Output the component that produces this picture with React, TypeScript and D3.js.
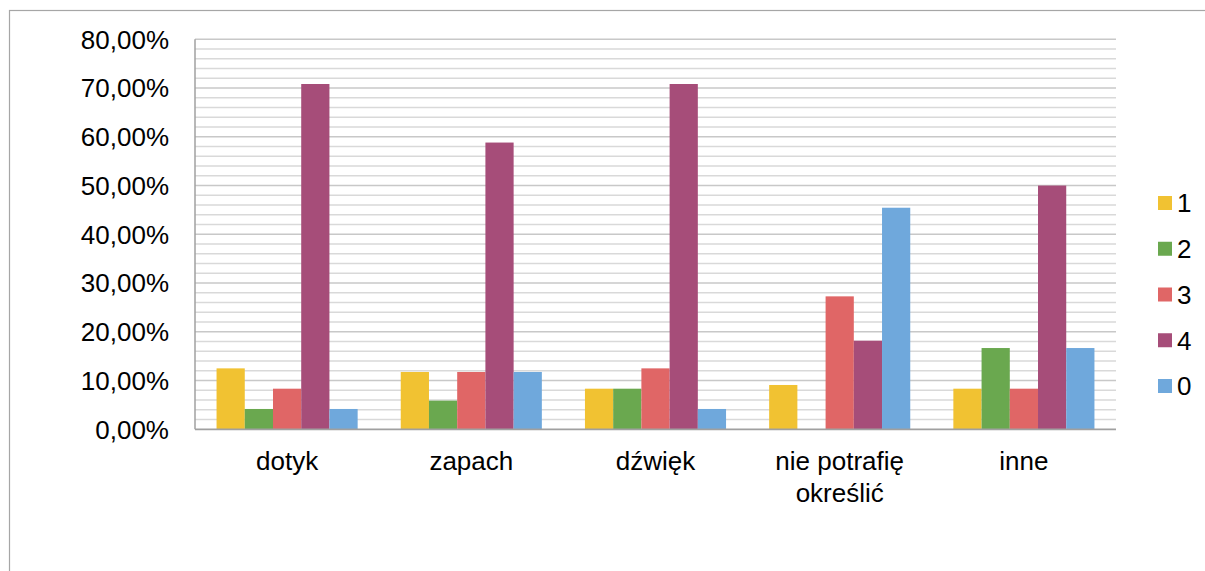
import { useRef, useEffect } from "react";
import * as d3 from "d3";

const categories = ["dotyk", "zapach", "dźwięk", "nie potrafię określić", "inne"];
const seriesNames = ["1", "2", "3", "4", "0"];
const seriesColors = ["#F1C232", "#6AA84F", "#E06666", "#A64D79", "#6FA8DC"];

// percent values per series, in category order
const s1 = [12.5, 11.76, 8.33, 9.09, 8.33];
const s2 = [4.17, 5.88, 8.33, 0, 16.67];
const s3 = [8.33, 11.76, 12.5, 27.27, 8.33];
const s4 = [70.83, 58.82, 70.83, 18.18, 50.0];
const s0 = [4.17, 11.76, 4.17, 45.45, 16.67];
const seriesValues = [s1, s2, s3, s4, s0];

const yTicks = [0, 10, 20, 30, 40, 50, 60, 70, 80];

const W = 1205;
const H = 571;
const FONT = "'Liberation Sans', Arial, sans-serif";

export default function App() {
  const svgRef = useRef<SVGSVGElement | null>(null);

  useEffect(() => {
    const svg = d3.select(svgRef.current);
    svg.selectAll("*").remove();

    const plot = { left: 195, right: 1116, top: 39.3, bottom: 429.3 };

    const x = d3
      .scaleBand<string>()
      .domain(categories)
      .range([plot.left, plot.right])
      .paddingInner(0.234)
      .paddingOuter(0.117);

    const xs = d3
      .scaleBand<string>()
      .domain(seriesNames)
      .range([0, x.bandwidth()]);

    const y = d3.scaleLinear().domain([0, 80]).range([plot.bottom, plot.top]);

    // outer chart border
    svg
      .append("rect")
      .attr("x", 9.5)
      .attr("y", 10.5)
      .attr("width", 1300)
      .attr("height", 700)
      .attr("fill", "none")
      .attr("stroke", "#a6a6a6")
      .attr("stroke-width", 1.2);

    // gridlines: minor every 2%, major every 10%
    const minor = d3.range(2, 81, 2).filter((v) => v % 10 !== 0);
    svg
      .append("g")
      .selectAll("line")
      .data(minor)
      .join("line")
      .attr("x1", plot.left)
      .attr("x2", plot.right)
      .attr("y1", (d) => y(d))
      .attr("y2", (d) => y(d))
      .attr("stroke", "#d9d9d9")
      .attr("stroke-width", 1.6);

    svg
      .append("g")
      .selectAll("line")
      .data(yTicks.filter((v) => v > 0))
      .join("line")
      .attr("x1", plot.left)
      .attr("x2", plot.right)
      .attr("y1", (d) => y(d))
      .attr("y2", (d) => y(d))
      .attr("stroke", "#c8c8c8")
      .attr("stroke-width", 1.6);

    // bars
    seriesValues.forEach((vals, si) => {
      svg
        .append("g")
        .selectAll("rect")
        .data(vals)
        .join("rect")
        .attr("x", (_d, i) => (x(categories[i]) as number) + (xs(seriesNames[si]) as number))
        .attr("y", (d) => y(d))
        .attr("width", xs.bandwidth())
        .attr("height", (d) => y(0) - y(d))
        .attr("fill", seriesColors[si]);
    });

    // axes lines
    svg
      .append("line")
      .attr("x1", plot.left)
      .attr("x2", plot.left)
      .attr("y1", plot.top)
      .attr("y2", plot.bottom)
      .attr("stroke", "#a0a0a0")
      .attr("stroke-width", 1.5);
    svg
      .append("line")
      .attr("x1", plot.left)
      .attr("x2", plot.right)
      .attr("y1", plot.bottom)
      .attr("y2", plot.bottom)
      .attr("stroke", "#a0a0a0")
      .attr("stroke-width", 1.8);

    // y tick labels
    svg
      .append("g")
      .selectAll("text")
      .data(yTicks)
      .join("text")
      .attr("x", 169)
      .attr("y", (d) => y(d))
      .attr("dy", "0.36em")
      .attr("text-anchor", "end")
      .attr("font-family", FONT)
      .attr("font-size", 26)
      .attr("fill", "#000")
      .text((d) => d.toFixed(2).replace(".", ",") + "%");

    // category labels, wrapped
    const wrap: Record<string, string[]> = {
      "nie potrafię określić": ["nie potrafię", "określić"],
    };
    const catG = svg.append("g");
    categories.forEach((c) => {
      const lines = wrap[c] ?? [c];
      const t = catG
        .append("text")
        .attr("text-anchor", "middle")
        .attr("font-family", FONT)
        .attr("font-size", 26)
        .attr("fill", "#000");
      lines.forEach((ln, li) => {
        t.append("tspan")
          .attr("x", (x(c) as number) + x.bandwidth() / 2)
          .attr("y", 470 + li * 31.5)
          .text(ln);
      });
    });

    // legend
    const legendY = d3.scalePoint<string>().domain(seriesNames).range([203, 386]);
    const leg = svg.append("g");
    seriesNames.forEach((s, i) => {
      const cy = legendY(s) as number;
      leg
        .append("rect")
        .attr("x", 1158)
        .attr("y", cy - 7)
        .attr("width", 14)
        .attr("height", 14)
        .attr("fill", seriesColors[i]);
      leg
        .append("text")
        .attr("x", 1177)
        .attr("y", cy)
        .attr("dy", "0.36em")
        .attr("font-family", FONT)
        .attr("font-size", 26)
        .attr("fill", "#000")
        .text(s);
    });
  }, []);

  return (
    <div style={{ position: "absolute", top: 0, left: 0, width: W, height: H, background: "#fff" }}>
      <svg ref={svgRef} width={W} height={H} style={{ display: "block" }} />
    </div>
  );
}
